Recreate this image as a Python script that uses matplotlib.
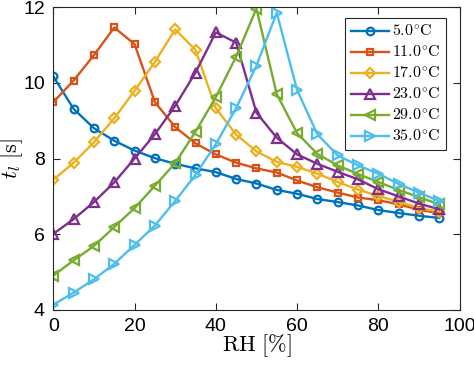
import matplotlib
matplotlib.use("Agg")
import matplotlib.pyplot as plt
import numpy as np

plt.rcParams["mathtext.fontset"] = "cm"
plt.rcParams["font.family"] = ["Liberation Sans", "DejaVu Sans"]

# Relative humidity [%]
rh = [0, 5, 10, 15, 20, 25, 30, 35, 40, 45, 50, 55, 60, 65, 70, 75, 80, 85, 90, 95]

# Time t_l [s] for each temperature
t_5 = [10.17, 9.31, 8.80, 8.47, 8.21, 8.01, 7.86, 7.74, 7.64, 7.46,
       7.34, 7.17, 7.07, 6.93, 6.85, 6.76, 6.64, 6.56, 6.49, 6.43]
t_11 = [9.49, 10.06, 10.73, 11.46, 11.02, 9.49, 8.83, 8.40, 8.11, 7.89,
        7.74, 7.63, 7.42, 7.24, 7.10, 6.97, 6.90, 6.79, 6.65, 6.55]
t_17 = [7.44, 7.89, 8.43, 9.06, 9.79, 10.55, 11.41, 10.87, 9.33, 8.63,
        8.19, 7.91, 7.78, 7.60, 7.38, 7.18, 7.01, 6.86, 6.69, 6.60]
t_23 = [6.01, 6.40, 6.85, 7.37, 8.00, 8.64, 9.39, 10.27, 11.33, 11.06,
        9.21, 8.55, 8.11, 7.86, 7.65, 7.45, 7.19, 7.00, 6.81, 6.66]
t_29 = [4.91, 5.31, 5.69, 6.19, 6.69, 7.28, 7.88, 8.71, 9.62, 10.69,
        11.96, 9.70, 8.67, 8.12, 7.82, 7.59, 7.38, 7.17, 6.98, 6.79]
t_35 = [4.14, 4.46, 4.81, 5.22, 5.72, 6.23, 6.88, 7.57, 8.38, 9.33,
        10.45, 11.85, 9.81, 8.64, 8.08, 7.82, 7.60, 7.33, 7.10, 6.88]

series = [t_5, t_11, t_17, t_23, t_29, t_35]
labels = [r"$5.0^{\circ}\mathrm{C}$", r"$11.0^{\circ}\mathrm{C}$", r"$17.0^{\circ}\mathrm{C}$",
          r"$23.0^{\circ}\mathrm{C}$", r"$29.0^{\circ}\mathrm{C}$", r"$35.0^{\circ}\mathrm{C}$"]
colors = ["#0072BD", "#D95319", "#EDB120", "#7E2F8E", "#77AC30", "#4DBEEE"]
markers = ["o", "s", "D", "^", "<", ">"]
msizes = [5.5, 5, 4.8, 6.5, 6.5, 6.5]

fig = plt.figure(figsize=(4.74, 3.65), dpi=100)
ax = fig.add_axes([0.1125, 0.1507, 0.857, 0.830])

for y, lab, c, m, ms in zip(series, labels, colors, markers, msizes):
    ax.plot(rh, y, color=c, marker=m, markersize=ms, linewidth=1.7,
            markerfacecolor="none", markeredgewidth=1.6, label=lab)

ax.set_xlim(0, 100)
ax.set_ylim(4, 12)
ax.set_xticks([0, 20, 40, 60, 80, 100])
ax.set_yticks([4, 6, 8, 10, 12])
ax.tick_params(direction="in", top=True, right=True, labelsize=14,
               color="#262626", length=5, width=0.8, pad=6)
for s in ax.spines.values():
    s.set_color("#262626")
    s.set_linewidth(0.8)

ax.set_xlabel(r"$\mathrm{RH}\ [\%]$", fontsize=16, labelpad=-2)
ax.set_ylabel(r"$t_l\ [\mathrm{s}]$", fontsize=16)
ax.yaxis.set_label_coords(-0.07, 0.5)

leg = ax.legend(loc="upper right", fontsize=11.5, handlelength=2.4,
                borderpad=0.35, labelspacing=0.33, handletextpad=0.2,
                fancybox=False, framealpha=1, edgecolor="#262626",
                bbox_to_anchor=(0.967, 0.964), borderaxespad=0)
leg.get_frame().set_linewidth(0.8)

fig.savefig("out.png", dpi=100)
